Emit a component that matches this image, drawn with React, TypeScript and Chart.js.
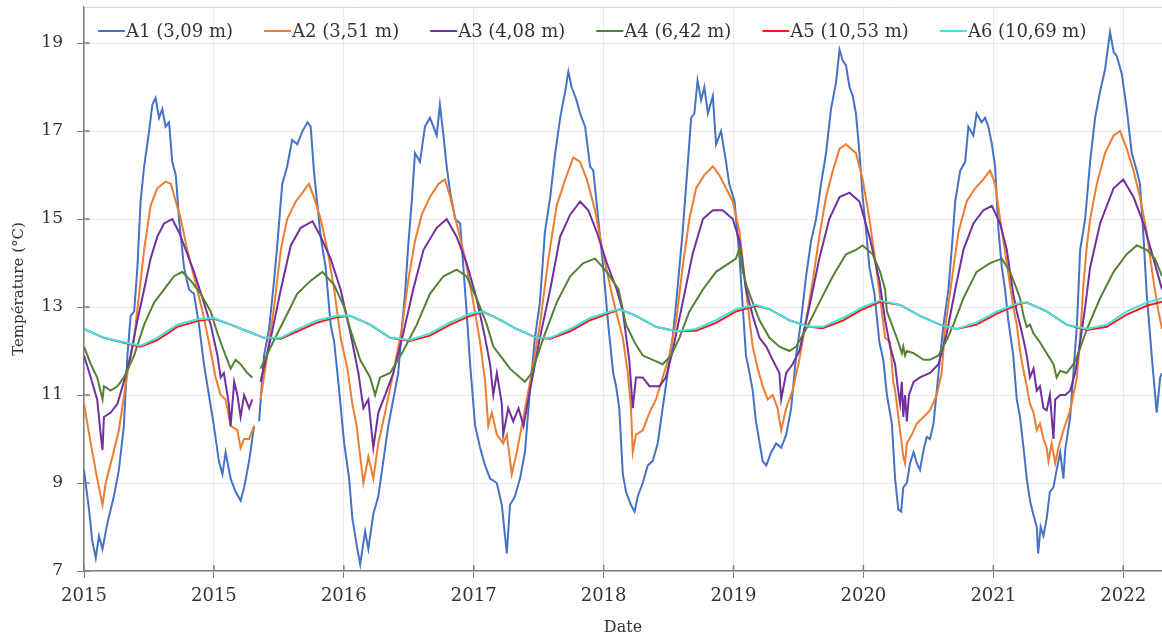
import React, { useEffect, useRef } from "react";
import { Chart, registerables } from "chart.js";

Chart.register(...registerables);

// ---- Axis definitions ----
const X_MIN_DAY = 0;
const X_MAX_DAY = 3029;
const X_TICK_DAYS = [0, 365, 730, 1095, 1460, 1825, 2190, 2555, 2920];
const X_TICK_LABELS = ["2015", "2015", "2016", "2017", "2018", "2019", "2020", "2021", "2022"];
const Y_MIN = 7;
const Y_MAX = 19.82;
const Y_TICKS = [7, 9, 11, 13, 15, 17, 19];

// ---- Series ----
const SERIES_LABELS = ["A1 (3,09 m)", "A2 (3,51 m)", "A3 (4,08 m)", "A4 (6,42 m)", "A5 (10,53 m)", "A6 (10,69 m)"];
const SERIES_COLORS = ["#4472C4", "#ED7D31", "#7030A0", "#548235", "#FF1A1A", "#3FE3E3"];

const A1_DAY = [0, 14, 23, 33, 42, 52, 66, 84, 98, 112, 122, 131, 141, 150, 159, 169, 183, 192, 201, 211, 220, 229, 239, 248, 258, 267, 281, 295, 309, 323, 337, 351, 365, 379, 389, 398, 412, 426, 440, 450, 464, 478, 482, 492, 506, 520, 534, 543, 557, 571, 585, 599, 614, 628, 637, 646, 656, 665, 679, 693, 703, 717, 731, 745, 754, 766, 776, 790, 799, 813, 827, 841, 855, 869, 883, 893, 902, 911, 921, 930, 944, 958, 972, 982, 991, 1000, 1010, 1019, 1029, 1043, 1057, 1066, 1075, 1085, 1099, 1113, 1127, 1141, 1160, 1174, 1188, 1197, 1211, 1225, 1239, 1253, 1267, 1281, 1295, 1310, 1324, 1338, 1352, 1361, 1370, 1384, 1394, 1408, 1422, 1431, 1445, 1459, 1473, 1487, 1495, 1504, 1514, 1523, 1537, 1547, 1556, 1570, 1584, 1598, 1612, 1626, 1640, 1654, 1664, 1673, 1682, 1696, 1706, 1715, 1724, 1734, 1743, 1753, 1767, 1776, 1790, 1804, 1813, 1828, 1842, 1851, 1860, 1870, 1879, 1888, 1907, 1917, 1931, 1945, 1959, 1973, 1987, 2001, 2015, 2029, 2043, 2057, 2071, 2085, 2099, 2113, 2123, 2132, 2141, 2151, 2160, 2169, 2179, 2188, 2198, 2207, 2221, 2235, 2246, 2256, 2270, 2279, 2288, 2296, 2302, 2312, 2321, 2331, 2340, 2349, 2359, 2368, 2377, 2387, 2401, 2415, 2429, 2438, 2448, 2462, 2476, 2485, 2499, 2508, 2522, 2532, 2541, 2551, 2560, 2569, 2579, 2588, 2597, 2611, 2621, 2630, 2640, 2649, 2658, 2667, 2677, 2681, 2688, 2696, 2705, 2714, 2724, 2733, 2743, 2752, 2757, 2771, 2780, 2790, 2799, 2813, 2827, 2841, 2855, 2869, 2883, 2893, 2902, 2916, 2930, 2944, 2958, 2967, 2977, 2986, 3000, 3014, 3024, 3029];
const A1_TEMP = [9.3, 8.4, 7.7, 7.3, 7.8, 7.5, 8.1, 8.7, 9.3, 10.3, 11.9, 12.8, 12.9, 13.9, 15.4, 16.2, 17.0, 17.6, 17.75, 17.3, 17.5, 17.1, 17.2, 16.3, 16.0, 15.0, 13.9, 13.4, 13.3, 12.6, 11.7, 11.0, 10.3, 9.5, 9.2, 9.7, 9.1, 8.8, 8.6, 8.9, 9.5, 10.3, null, 10.4, 11.9, 12.5, 13.6, 14.4, 15.8, 16.2, 16.8, 16.7, 17.0, 17.2, 17.1, 16.1, 15.3, 14.6, 13.9, 12.6, 12.2, 11.1, 9.9, 9.1, 8.2, 7.6, 7.15, 7.9, 7.5, 8.3, 8.7, 9.5, 10.3, 10.9, 11.5, 12.5, 13.3, 14.4, 15.4, 16.5, 16.3, 17.1, 17.3, 17.1, 16.9, 17.6, 16.9, 16.2, 15.6, 15.0, 14.9, 13.9, 12.9, 11.7, 10.3, 9.8, 9.4, 9.1, 9.0, 8.5, 7.4, 8.5, 8.7, 9.1, 9.7, 11.1, 12.3, 13.1, 14.7, 15.5, 16.5, 17.3, 17.9, 18.35, 18.0, 17.7, 17.4, 17.1, 16.2, 16.1, 15.0, 13.9, 12.6, 11.5, 11.2, 10.7, 9.2, 8.8, 8.5, 8.35, 8.7, 9.0, 9.4, 9.5, 9.9, 10.7, 11.5, 12.3, 13.1, 13.9, 14.7, 16.2, 17.3, 17.4, 18.15, 17.7, 18.0, 17.4, 17.8, 16.7, 17.0, 16.3, 15.8, 15.4, 14.1, 13.0, 11.9, 11.5, 11.1, 10.4, 9.5, 9.4, 9.7, 9.9, 9.8, 10.1, 10.7, 11.9, 12.7, 13.7, 14.5, 15.0, 15.8, 16.5, 17.5, 18.1, 18.85, 18.6, 18.5, 18.0, 17.8, 17.4, 16.5, 15.5, 14.7, 13.9, 13.3, 12.2, 11.8, 11.0, 10.35, 9.1, 8.4, 8.35, 8.9, 9.0, 9.45, 9.7, 9.45, 9.3, 9.75, 10.05, 10.0, 10.35, 11.5, 12.6, 13.4, 14.3, 15.4, 16.1, 16.3, 17.1, 16.9, 17.4, 17.2, 17.3, 17.1, 16.7, 16.2, 14.8, 13.9, 13.4, 12.7, 11.9, 10.9, 10.5, 9.8, 9.1, 8.6, 8.3, 8.0, 7.4, 8.0, 7.8, 8.2, 8.8, 8.9, 9.3, 9.7, 9.1, 9.75, 10.5, 11.5, 12.6, 14.3, 15.0, 16.3, 17.3, 17.9, 18.4, 19.25, 18.8, 18.7, 18.3, 17.5, 16.5, 16.1, 15.8, 14.6, 13.3, 11.9, 10.6, 11.4, 11.5];

const A2_DAY = [0, 19, 37, 52, 61, 80, 98, 122, 141, 155, 169, 187, 206, 229, 244, 258, 272, 290, 309, 333, 351, 370, 384, 398, 412, 431, 440, 450, 464, 478, 482, 496, 515, 534, 553, 571, 595, 614, 632, 646, 665, 684, 703, 721, 740, 754, 766, 785, 799, 813, 827, 846, 869, 893, 911, 930, 949, 972, 996, 1014, 1029, 1047, 1071, 1094, 1113, 1127, 1136, 1146, 1160, 1178, 1188, 1202, 1216, 1235, 1258, 1281, 1305, 1328, 1352, 1375, 1394, 1413, 1436, 1459, 1483, 1495, 1514, 1528, 1537, 1542, 1551, 1570, 1589, 1607, 1626, 1645, 1664, 1682, 1701, 1720, 1743, 1767, 1785, 1804, 1823, 1842, 1856, 1870, 1879, 1893, 1907, 1921, 1935, 1949, 1959, 1973, 1991, 2010, 2029, 2048, 2066, 2085, 2104, 2123, 2141, 2155, 2169, 2188, 2207, 2226, 2237, 2251, 2265, 2274, 2279, 2293, 2302, 2307, 2312, 2326, 2340, 2359, 2377, 2396, 2410, 2419, 2438, 2457, 2480, 2504, 2527, 2546, 2560, 2574, 2593, 2611, 2621, 2630, 2640, 2649, 2658, 2668, 2677, 2686, 2696, 2705, 2710, 2719, 2729, 2738, 2752, 2771, 2790, 2799, 2808, 2818, 2827, 2846, 2869, 2893, 2911, 2930, 2949, 2967, 2986, 3005, 3019, 3029];
const A2_TEMP = [10.8, 9.9, 9.1, 8.5, 9.0, 9.6, 10.2, 11.5, 12.3, 13.3, 14.3, 15.3, 15.7, 15.85, 15.8, 15.4, 15.0, 14.3, 13.7, 12.9, 12.2, 11.4, 11.0, 10.9, 10.3, 10.2, 9.8, 10.0, 10.0, 10.3, null, 10.9, 11.9, 13.0, 14.3, 15.0, 15.4, 15.6, 15.8, 15.5, 15.0, 14.3, 13.4, 12.3, 11.6, 10.8, 10.3, 9.0, 9.6, 9.1, 9.9, 10.6, 11.5, 12.5, 13.6, 14.5, 15.1, 15.5, 15.8, 15.9, 15.5, 14.9, 14.1, 13.1, 12.2, 11.3, 10.3, 10.6, 10.1, 9.9, 10.1, 9.2, 9.7, 10.5, 11.5, 12.6, 14.1, 15.3, 15.9, 16.4, 16.3, 15.9, 15.2, 14.2, 13.3, 12.9, 12.3, 11.5, 10.7, 9.7, 10.1, 10.2, 10.6, 10.9, 11.4, 11.9, 12.7, 13.9, 15.0, 15.7, 16.0, 16.2, 16.0, 15.7, 15.4, 14.7, 13.7, 12.7, 12.1, 11.6, 11.2, 10.9, 11.0, 10.7, 10.2, 10.7, 11.1, 11.8, 12.7, 13.6, 14.6, 15.5, 16.1, 16.6, 16.7, 16.6, 16.5, 15.9, 15.0, 13.9, 13.2, 12.3, 12.2, 11.3, 11.1, 10.2, 9.6, 9.45, 9.9, 10.1, 10.35, 10.5, 10.65, 11.0, 11.5, 12.5, 13.6, 14.7, 15.4, 15.7, 15.9, 16.1, 15.8, 15.0, 14.0, 13.0, 12.6, 12.0, 11.55, 11.2, 10.8, 10.6, 10.2, 10.35, 10.0, 9.8, 9.5, 9.9, 9.45, 9.8, 10.2, 10.65, 11.4, 12.3, 13.5, 14.4, 15.0, 15.8, 16.5, 16.9, 17.0, 16.6, 16.1, 15.5, 14.7, 13.6, 12.9, 12.5];

const A3_DAY = [0, 19, 37, 47, 52, 56, 75, 94, 112, 131, 150, 169, 187, 206, 225, 248, 267, 286, 309, 333, 356, 375, 384, 393, 407, 412, 422, 431, 440, 450, 464, 473, 482, 496, 525, 553, 581, 609, 642, 665, 693, 721, 749, 771, 785, 799, 813, 827, 846, 869, 897, 925, 954, 991, 1019, 1047, 1075, 1103, 1127, 1141, 1150, 1160, 1174, 1178, 1192, 1206, 1221, 1235, 1253, 1281, 1310, 1338, 1366, 1394, 1417, 1441, 1469, 1497, 1514, 1532, 1542, 1551, 1570, 1589, 1617, 1635, 1654, 1682, 1710, 1739, 1767, 1795, 1823, 1842, 1860, 1879, 1898, 1917, 1935, 1954, 1959, 1973, 1991, 2010, 2038, 2066, 2094, 2123, 2151, 2179, 2207, 2235, 2251, 2265, 2279, 2286, 2293, 2298, 2302, 2307, 2312, 2318, 2331, 2349, 2377, 2401, 2424, 2448, 2471, 2499, 2527, 2551, 2574, 2593, 2611, 2621, 2630, 2640, 2649, 2658, 2668, 2677, 2686, 2696, 2705, 2714, 2724, 2729, 2743, 2757, 2771, 2785, 2799, 2813, 2827, 2855, 2893, 2920, 2949, 2977, 3005, 3029];
const A3_TEMP = [11.9, 11.4, 10.9, 10.1, 9.75, 10.5, 10.6, 10.8, 11.3, 11.9, 12.7, 13.4, 14.1, 14.6, 14.9, 15.0, 14.7, 14.3, 13.8, 13.2, 12.6, 11.9, 11.4, 11.5, 10.8, 10.3, 11.3, 11.0, 10.5, 11.0, 10.7, 10.9, null, 11.3, 12.3, 13.4, 14.4, 14.8, 14.95, 14.6, 14.1, 13.4, 12.4, 11.5, 10.7, 10.9, 9.8, 10.6, 11.0, 11.5, 12.4, 13.4, 14.3, 14.8, 15.0, 14.6, 14.0, 13.2, 12.3, 11.7, 11.0, 11.5, 10.8, 10.1, 10.7, 10.4, 10.7, 10.3, 11.1, 12.3, 13.4, 14.6, 15.1, 15.4, 15.2, 14.7, 14.0, 13.4, 12.9, 11.8, 10.7, 11.4, 11.4, 11.2, 11.2, 11.4, 12.0, 13.1, 14.2, 15.0, 15.2, 15.2, 15.0, 14.5, 13.4, 12.8, 12.3, 12.1, 11.8, 11.5, 10.9, 11.5, 11.7, 12.0, 13.0, 14.1, 15.0, 15.5, 15.6, 15.4, 14.6, 13.6, 12.7, 12.1, 11.7, 11.2, 10.8, 11.3, 10.5, 11.0, 10.4, 11.0, 11.3, 11.4, 11.5, 11.7, 12.4, 13.4, 14.3, 14.9, 15.2, 15.3, 14.9, 14.3, 13.3, 12.9, 12.6, 12.25, 11.9, 11.4, 11.6, 11.1, 11.2, 10.7, 10.65, 11.0, 10.0, 10.9, 11.0, 11.0, 11.1, 11.5, 12.2, 13.0, 13.9, 14.9, 15.7, 15.9, 15.5, 14.9, 14.1, 13.4];

const A4_DAY = [0, 19, 37, 52, 56, 75, 94, 112, 141, 169, 197, 225, 253, 276, 300, 328, 356, 375, 393, 412, 426, 440, 459, 473, 482, 496, 525, 562, 599, 637, 670, 703, 731, 748, 776, 804, 818, 832, 860, 897, 935, 972, 1010, 1047, 1075, 1103, 1132, 1150, 1169, 1197, 1225, 1239, 1258, 1291, 1328, 1366, 1403, 1436, 1469, 1502, 1523, 1547, 1570, 1598, 1626, 1650, 1673, 1701, 1739, 1776, 1813, 1832, 1842, 1851, 1865, 1879, 1898, 1926, 1954, 1982, 2001, 2029, 2066, 2104, 2141, 2169, 2188, 2216, 2237, 2251, 2256, 2270, 2279, 2288, 2298, 2302, 2307, 2312, 2331, 2359, 2377, 2401, 2424, 2443, 2471, 2508, 2546, 2579, 2602, 2621, 2630, 2640, 2649, 2658, 2668, 2686, 2705, 2724, 2733, 2743, 2761, 2780, 2794, 2818, 2855, 2893, 2930, 2958, 2986, 3009, 3029];
const A4_TEMP = [12.1, 11.7, 11.4, 10.9, 11.2, 11.1, 11.2, 11.4, 11.9, 12.6, 13.1, 13.4, 13.7, 13.8, 13.6, 13.3, 12.9, 12.4, 12.0, 11.6, 11.8, 11.7, 11.5, 11.4, null, 11.6, 12.1, 12.7, 13.3, 13.6, 13.8, 13.5, 13.0, 12.5, 11.8, 11.4, 11.0, 11.4, 11.5, 12.0, 12.6, 13.3, 13.7, 13.85, 13.7, 13.2, 12.6, 12.1, 11.9, 11.6, 11.4, 11.3, 11.5, 12.3, 13.1, 13.7, 14.0, 14.1, 13.8, 13.4, 12.6, 12.2, 11.9, 11.8, 11.7, 11.9, 12.3, 12.9, 13.4, 13.8, 14.0, 14.1, 14.35, 13.8, 13.4, 13.1, 12.7, 12.3, 12.1, 12.0, 12.1, 12.5, 13.1, 13.7, 14.2, 14.3, 14.4, 14.2, 13.8, 13.4, 12.9, 12.6, 12.4, 12.2, 11.95, 12.1, 11.9, 12.0, 11.95, 11.8, 11.8, 11.9, 12.25, 12.6, 13.2, 13.8, 14.0, 14.1, 13.8, 13.4, 13.2, 12.8, 12.55, 12.6, 12.4, 12.2, 11.95, 11.7, 11.4, 11.55, 11.5, 11.7, 11.95, 12.5, 13.2, 13.8, 14.2, 14.4, 14.3, 14.1, 13.7];

const A5_DAY = [0, 56, 112, 159, 206, 262, 318, 365, 412, 459, 506, 553, 600, 656, 712, 748, 804, 860, 916, 972, 1029, 1085, 1122, 1160, 1216, 1272, 1310, 1366, 1422, 1478, 1506, 1551, 1607, 1664, 1720, 1776, 1832, 1888, 1926, 1982, 2038, 2076, 2132, 2188, 2237, 2293, 2349, 2405, 2452, 2508, 2565, 2630, 2649, 2705, 2761, 2818, 2874, 2930, 2986, 3029];
const A5_TEMP = [12.5, 12.3, 12.19, 12.1, 12.25, 12.55, 12.68, 12.74, 12.6, 12.45, 12.3, 12.28, 12.45, 12.65, 12.77, 12.8, 12.6, 12.3, 12.23, 12.35, 12.6, 12.8, 12.89, 12.75, 12.5, 12.3, 12.28, 12.45, 12.7, 12.87, 12.95, 12.8, 12.55, 12.45, 12.46, 12.64, 12.9, 13.03, 12.95, 12.7, 12.55, 12.52, 12.69, 12.95, 13.12, 13.05, 12.8, 12.6, 12.5, 12.6, 12.85, 13.08, 13.1, 12.9, 12.6, 12.48, 12.55, 12.83, 13.03, 13.12];

const A6_DAY = [0, 56, 112, 159, 206, 262, 318, 365, 412, 459, 506, 553, 600, 656, 712, 748, 804, 860, 916, 972, 1029, 1085, 1122, 1160, 1216, 1272, 1310, 1366, 1422, 1478, 1506, 1551, 1607, 1664, 1720, 1776, 1832, 1888, 1926, 1982, 2038, 2076, 2132, 2188, 2237, 2293, 2349, 2405, 2452, 2508, 2565, 2630, 2649, 2705, 2761, 2818, 2874, 2930, 2986, 3029];
const A6_TEMP = [12.5, 12.3, 12.2, 12.12, 12.3, 12.6, 12.72, 12.75, 12.6, 12.45, 12.3, 12.3, 12.5, 12.7, 12.8, 12.8, 12.6, 12.3, 12.25, 12.4, 12.65, 12.85, 12.9, 12.75, 12.5, 12.3, 12.3, 12.5, 12.75, 12.9, 12.95, 12.8, 12.55, 12.45, 12.5, 12.7, 12.95, 13.05, 12.95, 12.7, 12.55, 12.55, 12.75, 13.0, 13.15, 13.05, 12.8, 12.6, 12.5, 12.65, 12.9, 13.1, 13.1, 12.9, 12.6, 12.5, 12.6, 12.9, 13.1, 13.2];

const SERIES_DAYS = [A1_DAY, A2_DAY, A3_DAY, A4_DAY, A5_DAY, A6_DAY];
const SERIES_TEMPS = [A1_TEMP, A2_TEMP, A3_TEMP, A4_TEMP, A5_TEMP, A6_TEMP];

const FONT_FAMILY = '"DejaVu Serif", serif';
const TEXT_COLOR = "#333333";
const AXIS_COLOR = "#7F7F7F";
const GRID_COLOR = "#EAEAEA";

const framePlugin = {
  id: "frameTicks",
  afterDraw(chart: any) {
    const { ctx, chartArea, scales } = chart;
    const { left, right, top, bottom } = chartArea;
    ctx.save();
    ctx.strokeStyle = "#D4D4D4";
    ctx.lineWidth = 1;
    ctx.beginPath();
    ctx.moveTo(left, top + 0.5);
    ctx.lineTo(right, top + 0.5);
    ctx.stroke();
    ctx.strokeStyle = AXIS_COLOR;
    ctx.lineWidth = 1.5;
    ctx.beginPath();
    X_TICK_DAYS.forEach((d) => {
      const px = scales.x.getPixelForValue(d);
      ctx.moveTo(px, bottom);
      ctx.lineTo(px, bottom - 6);
    });
    Y_TICKS.forEach((v) => {
      const py = scales.y.getPixelForValue(v);
      ctx.moveTo(left, py);
      ctx.lineTo(left + 6, py);
    });
    ctx.stroke();
    ctx.restore();
  },
};

const legendPlugin = {
  id: "insideLegend",
  afterDatasetsDraw(chart: any) {
    const { ctx } = chart;
    ctx.save();
    ctx.font = `18px ${FONT_FAMILY}`;
    ctx.textBaseline = "middle";
    ctx.textAlign = "left";
    let x = 98;
    const y = 31;
    chart.data.datasets.forEach((ds: any) => {
      ctx.strokeStyle = ds.borderColor;
      ctx.lineWidth = 2;
      ctx.beginPath();
      ctx.moveTo(x, y);
      ctx.lineTo(x + 27, y);
      ctx.stroke();
      ctx.fillStyle = TEXT_COLOR;
      ctx.fillText(ds.label, x + 28, y + 1);
      x += 28 + ctx.measureText(ds.label).width + 31;
    });
    ctx.restore();
  },
};

export default function App() {
  const canvasRef = useRef<HTMLCanvasElement | null>(null);

  useEffect(() => {
    document.body.style.margin = "0";
    const canvas = canvasRef.current;
    if (!canvas) return;
    const datasets = SERIES_LABELS.map((label, i) => ({
      label,
      data: SERIES_DAYS[i].map((d, j) => ({ x: d, y: SERIES_TEMPS[i][j] })),
      borderColor: SERIES_COLORS[i],
      backgroundColor: SERIES_COLORS[i],
      borderWidth: 2,
      pointRadius: 0,
      pointHoverRadius: 0,
      tension: 0,
      spanGaps: false,
      fill: false,
      order: SERIES_LABELS.length - 1 - i,
    }));

    const chart = new Chart(canvas, {
      type: "line",
      data: { datasets },
      plugins: [framePlugin, legendPlugin],
      options: {
        animation: false,
        responsive: false,
        maintainAspectRatio: false,
        events: [],
        layout: { padding: { top: 7, right: 0, bottom: 0, left: 0 } },
        plugins: {
          legend: { display: false },
          tooltip: { enabled: false },
        },
        scales: {
          x: {
            type: "linear",
            min: X_MIN_DAY,
            max: X_MAX_DAY,
            afterBuildTicks: (scale: any) => {
              scale.ticks = X_TICK_DAYS.map((v) => ({ value: v }));
            },
            afterFit: (scale: any) => {
              scale.height = 70;
              scale.paddingLeft = 0;
              scale.paddingRight = 0;
            },
            ticks: {
              autoSkip: false,
              maxRotation: 0,
              padding: 8,
              color: TEXT_COLOR,
              font: { family: FONT_FAMILY, size: 18 },
              callback: (_v: any, i: number) => X_TICK_LABELS[i],
            },
            grid: { color: GRID_COLOR, tickColor: AXIS_COLOR, tickLength: 7, lineWidth: 1 },
            border: { color: AXIS_COLOR, width: 1.5 },
            title: {
              display: true,
              text: "Date",
              color: TEXT_COLOR,
              font: { family: FONT_FAMILY, size: 16 },
              padding: { top: 4, bottom: 4 },
            },
          },
          y: {
            type: "linear",
            min: Y_MIN,
            max: Y_MAX,
            afterBuildTicks: (scale: any) => {
              scale.ticks = Y_TICKS.map((v) => ({ value: v }));
            },
            afterFit: (scale: any) => {
              scale.width = 84;
              scale.paddingTop = 0;
              scale.paddingBottom = 0;
            },
            ticks: {
              padding: 14,
              color: TEXT_COLOR,
              font: { family: FONT_FAMILY, size: 17 },
              callback: (v: any) => String(v),
            },
            grid: { color: GRID_COLOR, tickColor: AXIS_COLOR, tickLength: 7, lineWidth: 1 },
            border: { color: AXIS_COLOR, width: 1.5 },
            title: {
              display: true,
              text: "Température (°C)",
              color: TEXT_COLOR,
              font: { family: FONT_FAMILY, size: 15 },
              padding: { top: 10, bottom: 10 },
            },
          },
        },
      } as any,
    });
    return () => chart.destroy();
  }, []);

  return (
    <div style={{ position: "fixed", left: 0, top: 0, width: 1162, height: 641, background: "#fff" }}>
      <canvas ref={canvasRef} width={1162} height={641} style={{ display: "block" }} />
    </div>
  );
}
